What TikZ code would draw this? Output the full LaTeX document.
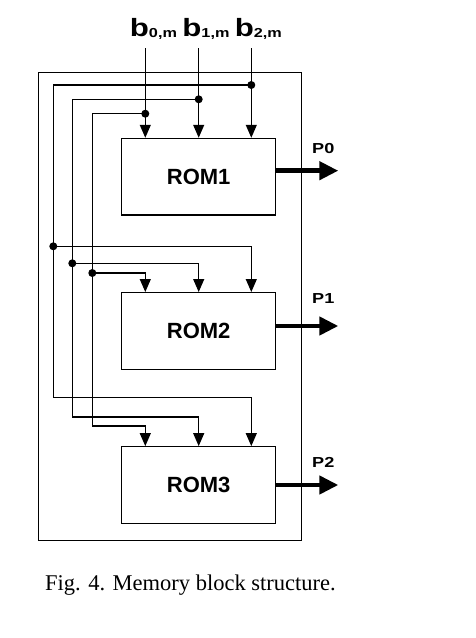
\documentclass[tikz,border=0pt]{standalone}
\usepackage{fontspec}
\usepackage{graphicx}
\setmainfont{Liberation Serif}
\newfontfamily\labelfont{Liberation Sans}
\usetikzlibrary{arrows.meta}

% bus input label b_{i,m}, set in a widened bold sans
\newcommand{\bitlabel}[1]{\scalebox{1.25}[1]{\labelfont\bfseries\fontsize{25}{25}\selectfont b\raisebox{-1pt}{\fontsize{13}{13}\selectfont #1,m}}}
% output port label
\newcommand{\portlabel}[1]{\scalebox{1.25}[1]{\labelfont\bfseries\fontsize{14.5}{15}\selectfont #1}}

\begin{document}
\begin{tikzpicture}[x=1pt,y=-1pt,
  wire/.style={line width=1.2pt},
  feed/.style={wire,-{Triangle[length=13pt,width=11pt]}},
  outarrow/.style={line width=4.5pt,-{Triangle[length=19pt,width=18pt]}},
  rom/.style={draw,line width=1.1pt,minimum width=154pt,minimum height=76.7pt,inner sep=0pt,
    font=\labelfont\bfseries\fontsize{22}{22}\selectfont},
  frame/.style={draw,line width=1.1pt,minimum width=263.4pt,minimum height=468pt,inner sep=0pt},
  joint/.style={circle,fill,inner sep=0pt,minimum size=8pt},
  tag/.style={anchor=base west,inner sep=0pt}]

\useasboundingbox (0,0) rectangle (476,638);

% enclosing block and the three ROMs
\node[frame] (block) at (170,306.7) {};
\node[rom] (rom1) at (198.7,176.65) {ROM1};
\node[rom] (rom2) at (198.7,330.9) {ROM2};
\node[rom] (rom3) at (198.7,485) {ROM3};

% input labels
\node[tag] (b0) at (129.7,36.7) {\bitlabel{0}};
\node[tag] (b1) at (182.2,36.7) {\bitlabel{1}};
\node[tag] (b2) at (234.6,36.7) {\bitlabel{2}};

% output labels
\node[tag] (p0) at (312,153.3) {\portlabel{P0}};
\node[tag] (p1) at (312,303) {\portlabel{P1}};
\node[tag] (p2) at (312,467) {\portlabel{P2}};

% wire ends and bends
\coordinate (in0) at (145.3,48.3);
\coordinate (in1) at (198.7,48.3);
\coordinate (in2) at (251.3,48.3);
\coordinate (bend0) at (92.3,426);
\coordinate (bend1) at (72.3,417);
\coordinate (bend2) at (53.3,397.3);
\coordinate (out0) at (338.3,170.7);
\coordinate (out1) at (338.3,326);
\coordinate (out2) at (338.3,485);

% branch points
\node[joint] (top2) at (251.3,85) {};
\node[joint] (top1) at (198.7,99.3) {};
\node[joint] (top0) at (145.3,113.7) {};
\node[joint] (mid2) at (53.3,246.3) {};
\node[joint] (mid1) at (72.3,263.3) {};
\node[joint] (mid0) at (92.3,273) {};

% straight feeds into ROM1
\draw[feed] (in0) -- (rom1.north -| in0);
\draw[feed] (in1) -- (rom1.north -| in1);
\draw[feed] (in2) -- (rom1.north -| in2);

% left rails
\draw[wire] (top2.center) -| (mid2.center);
\draw[wire] (top1.center) -| (mid1.center);
\draw[wire] (top0.center) -| (mid0.center);

% feeds into ROM2
\draw[feed] (mid2.center) -| (rom2.north -| in2);
\draw[feed] (mid1.center) -| (rom2.north -| in1);
\draw[feed] (mid0.center) -| (rom2.north -| in0);

% feeds into ROM3
\draw[feed] (mid2.center) -- (bend2) -| (rom3.north -| in2);
\draw[feed] (mid1.center) -- (bend1) -| (rom3.north -| in1);
\draw[feed] (mid0.center) -- (bend0) -| (rom3.north -| in0);

% outputs
\draw[outarrow] (rom1.east |- out0) -- (out0);
\draw[outarrow] (rom2.east |- out1) -- (out1);
\draw[outarrow] (rom3.east |- out2) -- (out2);

% caption
\node[tag,font=\fontsize{22.5}{24}\selectfont] (caption) at (45,590) {Fig. 4. Memory block structure.};
\end{tikzpicture}
\end{document}
